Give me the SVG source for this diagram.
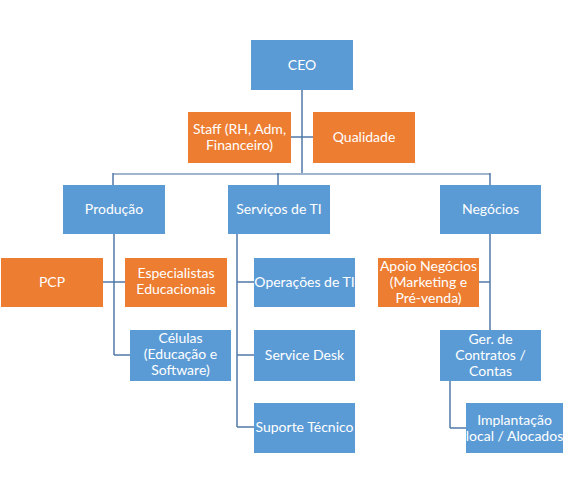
<svg xmlns="http://www.w3.org/2000/svg" width="572" height="492" viewBox="0 0 572 492">
<style>
.b{fill:#5B9BD5}
.o{fill:#ED7D31}
text{font-family:Lato,"Liberation Sans",sans-serif;font-size:14px;fill:#fff;text-anchor:middle}
.c line{stroke:#4F79A8;stroke-width:1.5;fill:none}
.c line.h{stroke:#A0B4CC;stroke-width:2}
</style>
<rect width="572" height="492" fill="#fff"/>
<g class="c" id="connectors">
<line x1="302" y1="90" x2="302" y2="174"/>
<line x1="291" y1="137" x2="313" y2="137"/>
<line class="h" x1="113" y1="174" x2="490" y2="174"/>
<line x1="113" y1="173" x2="113" y2="185"/>
<line x1="278" y1="173" x2="278" y2="185"/>
<line x1="490" y1="173" x2="490" y2="185"/>
<line x1="114" y1="234" x2="114" y2="355"/>
<line x1="103" y1="282" x2="125" y2="282"/>
<line x1="114" y1="355" x2="130" y2="355"/>
<line x1="237" y1="234" x2="237" y2="427"/>
<line x1="237" y1="282" x2="254" y2="282"/>
<line x1="237" y1="355" x2="254" y2="355"/>
<line x1="237" y1="427" x2="254" y2="427"/>
<line x1="490" y1="234" x2="490" y2="330"/>
<line x1="479" y1="282" x2="490" y2="282"/>
<line x1="450" y1="381" x2="450" y2="428"/>
<line x1="450" y1="428" x2="466" y2="428"/>
</g>
<g id="ceo"><rect class="b" x="251" y="40" width="102" height="50"/><text x="302" y="70">CEO</text></g>
<g id="staff"><rect class="o" x="188" y="112" width="103" height="51"/><text x="239.5" y="134">Staff (RH, Adm,</text><text x="239.5" y="150">Financeiro)</text></g>
<g id="qualidade"><rect class="o" x="313" y="112" width="102" height="51"/><text x="364" y="142">Qualidade</text></g>
<g id="producao"><rect class="b" x="63" y="185" width="102" height="49"/><text x="114" y="214">Produção</text></g>
<g id="servicos"><rect class="b" x="228" y="185" width="102" height="49"/><text x="279" y="214">Serviços de TI</text></g>
<g id="negocios"><rect class="b" x="440" y="185" width="101" height="49"/><text x="490.5" y="214">Negócios</text></g>
<g id="pcp"><rect class="o" x="1" y="258" width="102" height="49"/><text x="52" y="287">PCP</text></g>
<g id="especialistas"><rect class="o" x="125" y="258" width="102" height="49"/><text x="176" y="278">Especialistas</text><text x="176" y="294">Educacionais</text></g>
<g id="celulas"><rect class="b" x="130" y="330" width="101" height="51"/><text x="180.5" y="343">Células</text><text x="180.5" y="359">(Educação e</text><text x="180.5" y="375">Software)</text></g>
<g id="operacoes"><rect class="b" x="254" y="258" width="101" height="49"/><text x="304.5" y="287">Operações de TI</text></g>
<g id="servicedesk"><rect class="b" x="254" y="330" width="101" height="51"/><text x="304.5" y="360">Service Desk</text></g>
<g id="suporte"><rect class="b" x="254" y="403" width="101" height="50"/><text x="304.5" y="432">Suporte Técnico</text></g>
<g id="apoio"><rect class="o" x="378" y="258" width="101" height="49"/><text x="428.5" y="271">Apoio Negócios</text><text x="428.5" y="287">(Marketing e</text><text x="428.5" y="303">Pré-venda)</text></g>
<g id="gerencia"><rect class="b" x="440" y="330" width="101" height="51"/><text x="490.5" y="344">Ger. de</text><text x="490.5" y="360">Contratos /</text><text x="490.5" y="376">Contas</text></g>
<g id="implantacao"><rect class="b" x="466" y="403" width="97" height="50"/><text x="514.5" y="425">Implantação</text><text x="514.5" y="441">local / Alocados</text></g>
</svg>
